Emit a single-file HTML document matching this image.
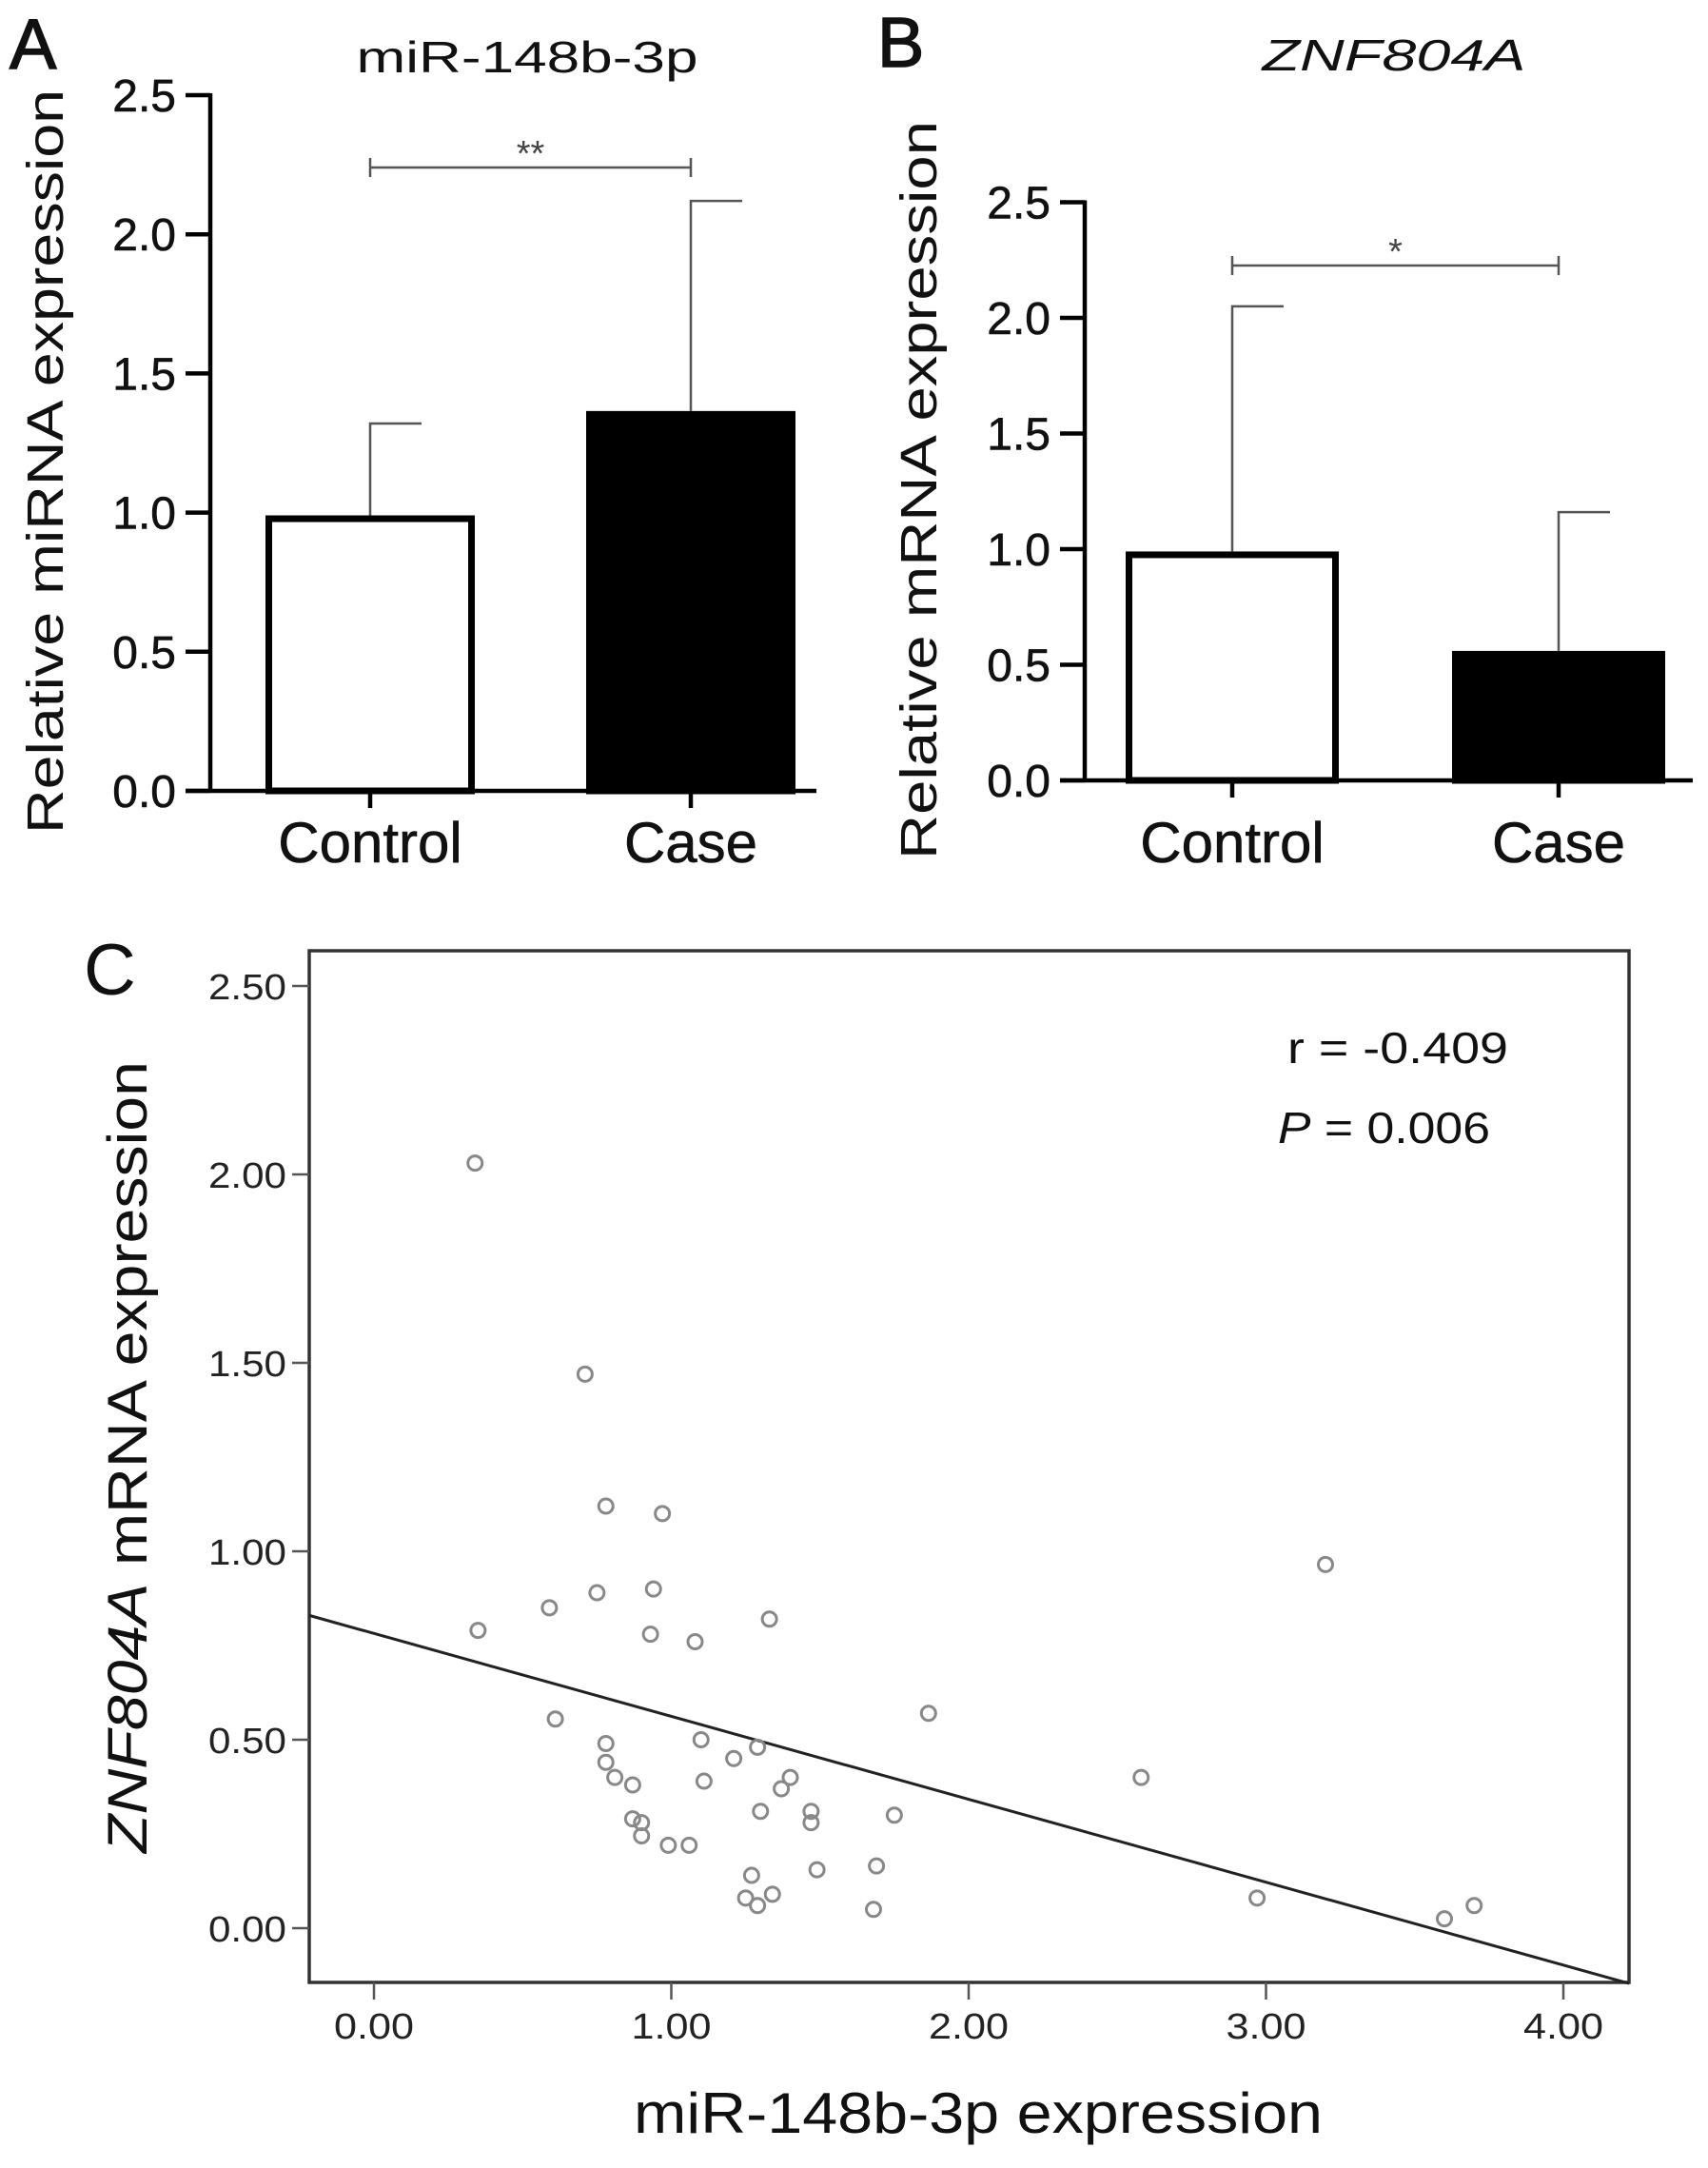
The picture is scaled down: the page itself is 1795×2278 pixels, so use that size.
<!DOCTYPE html>
<html><head><meta charset="utf-8"><style>
html,body{margin:0;padding:0;background:#fff;}
svg{display:block;font-family:"Liberation Sans",Arial,sans-serif;}
</style></head><body>
<svg id="fig" width="1795" height="2278" viewBox="0 0 1795 2278" xmlns="http://www.w3.org/2000/svg">
<rect width="1795" height="2278" fill="#fff"/>
<g id="panelA"></g>
<g id="panelB"></g>
<g id="panelC"></g>
</svg>
<script>
// Panel A data
const aCategories = ["Control", "Case"];
const aMeans = [0.99, 1.365];
const aErrTop = [1.32, 2.12];
const aTicks = ["0.0", "0.5", "1.0", "1.5", "2.0", "2.5"];
const aSig = "**";
// Panel B data
const bCategories = ["Control", "Case"];
const bMeans = [0.99, 0.56];
const bErrTop = [2.05, 1.16];
const bTicks = ["0.0", "0.5", "1.0", "1.5", "2.0", "2.5"];
const bSig = "*";
// Panel C data
const cX = [0.34,0.71,0.78,0.97,0.59,0.75,0.94,0.35,0.93,1.08,1.33,3.20,0.61,1.865,0.78,1.10,1.29,1.21,0.78,0.81,0.87,1.11,1.40,1.37,2.58,1.47,1.30,1.75,1.47,0.87,0.90,0.90,0.99,1.06,1.27,1.49,1.69,1.25,1.34,1.29,1.68,2.97,3.60,3.70];
const cY = [2.03,1.47,1.12,1.10,0.85,0.89,0.90,0.79,0.78,0.76,0.82,0.965,0.555,0.57,0.49,0.50,0.48,0.45,0.44,0.40,0.38,0.39,0.40,0.37,0.40,0.31,0.31,0.30,0.28,0.29,0.28,0.245,0.22,0.22,0.14,0.155,0.165,0.08,0.09,0.06,0.05,0.08,0.025,0.06];
const cXTicks = ["0.00","1.00","2.00","3.00","4.00"];
const cYTicks = ["0.00","0.50","1.00","1.50","2.00","2.50"];
const cFit = [0.782, -0.22]; // intercept, slope
const cStats = ["r = -0.409", "0.006"];

const NS = "http://www.w3.org/2000/svg";
function mk(parent, tag, attrs, text){
  const e = document.createElementNS(NS, tag);
  for (const k in attrs) e.setAttribute(k, attrs[k]);
  if (text !== undefined) e.textContent = text;
  parent.appendChild(e);
  return e;
}

function barPanel(g, cfg){
  const y = v => cfg.y0 - v * cfg.unit;
  const t = mk(g, "text", {x:0, y:0, "font-size":cfg.atFs, "text-anchor":"middle", fill:"#111", transform:`translate(${cfg.atX},${cfg.atY}) rotate(-90)`, textLength:cfg.atLen, lengthAdjust:"spacingAndGlyphs"}, cfg.axisTitle);
  
  
  const tt = mk(g, "text", {x:cfg.titleX, y:cfg.titleY, "font-size":46, "text-anchor":"middle", fill:"#111", "font-style":cfg.italic?"italic":"normal", textLength:cfg.titleLen, lengthAdjust:"spacingAndGlyphs"}, cfg.title);
  
  
  const pl = mk(g, "text", {x:cfg.letterX, y:cfg.letterY, "font-size":74, fill:"#111", stroke:"#111", "stroke-width":1.5}, cfg.letter);
  
  
  cfg.ticks.forEach((lab, i) => {
    const v = parseFloat(lab);
    const tk = mk(g, "line", {x1:cfg.axX-26, x2:cfg.axX, y1:y(v), y2:y(v), stroke:"#000", "stroke-width":4.5});
    
    
    const tl = mk(g, "text", {x:cfg.axX-36, y:y(v)+17, "font-size":48, "text-anchor":"end", fill:"#111", stroke:"#111", "stroke-width":0.6}, lab);
    
    
  });
  cfg.cats.forEach((c, i) => {
    const cx = cfg.centers[i];
    const top = y(cfg.means[i]);
    const bar = mk(g, "rect", {x:cx-cfg.halfW+3.5, y:top+3.5, width:cfg.halfW*2-7, height:cfg.y0-top-3.5, fill:i===0?"#fff":"#000", stroke:"#000", "stroke-width":7});
    
    
    const et = y(cfg.err[i]);
    const el = mk(g, "path", {d:`M${cx},${top} V${et} H${cx+cfg.capW}`, stroke:"#555", "stroke-width":2.5, fill:"none"});
    
    
    const xt = mk(g, "line", {x1:cx, x2:cx, y1:cfg.y0, y2:cfg.y0+18, stroke:"#000", "stroke-width":4.5});
    
    
    const xl = mk(g, "text", {x:cx, y:cfg.catY, "font-size":60, "text-anchor":"middle", fill:"#111", stroke:"#111", "stroke-width":0.6}, c);
    
    
  });
  const ya = mk(g, "line", {x1:cfg.axX, x2:cfg.axX, y1:y(2.5)-2, y2:cfg.y0+2, stroke:"#000", "stroke-width":4.5});
  
  
  const xa = mk(g, "line", {x1:cfg.axX-26, x2:cfg.xEnd, y1:cfg.y0, y2:cfg.y0, stroke:"#000", "stroke-width":4.5});
  
  
  const by = cfg.brY;
  const br = mk(g, "path", {d:`M${cfg.centers[0]},${by-10} V${by+10} M${cfg.centers[0]},${by} H${cfg.centers[1]} M${cfg.centers[1]},${by-10} V${by+10}`, stroke:"#555", "stroke-width":2.5, fill:"none"});
  
  
  const st = mk(g, "text", {x:(cfg.centers[0]+cfg.centers[1])/2, y:by-2, "font-size":38, "text-anchor":"middle", fill:"#444"}, cfg.sig);
  
  
}

barPanel(document.getElementById("panelA"), {
  y0:831, unit:292.4, axX:221, xEnd:858, centers:[389,726], halfW:110, capW:54,
  cats:aCategories, means:aMeans, err:aErrTop, ticks:aTicks, sig:aSig, brY:176,
  axisTitle:"Relative miRNA expression", atX:66, atY:485, atFs:54, atLen:782,
  title:"miR-148b-3p", titleX:554, titleY:76, titleLen:359, italic:false,
  letter:"A", letterX:10, letterY:72, catY:906
});
barPanel(document.getElementById("panelB"), {
  y0:820, unit:243, axX:1140, xEnd:1779, centers:[1295,1638], halfW:112, capW:54,
  cats:bCategories, means:bMeans, err:bErrTop, ticks:bTicks, sig:bSig, brY:279,
  axisTitle:"Relative mRNA expression", atX:984, atY:515, atFs:54, atLen:776,
  title:"ZNF804A", titleX:1465, titleY:74, titleLen:277, italic:true,
  letter:"B", letterX:922, letterY:70, catY:906
});

(function(){
  const g = document.getElementById("panelC");
  const X0 = 393, XU = 312.5, Y0 = 2026, YU = 396;
  const L = 325, R = 1712, T = 999, B = 2083;
  const sx = v => X0 + v * XU;
  const sy = v => Y0 - v * YU;
  const invX = px => (px - X0) / XU;
  const box = mk(g, "rect", {x:L, y:T, width:R-L, height:B-T, fill:"none", stroke:"#333", "stroke-width":3.5});
  
  
  cYTicks.forEach(lab => {
    const v = parseFloat(lab);
    const tk = mk(g, "line", {x1:L-18, x2:L, y1:sy(v), y2:sy(v), stroke:"#555", "stroke-width":2.5});
    
    
    const tl = mk(g, "text", {x:L-24, y:sy(v)+14, "font-size":38, "text-anchor":"end", fill:"#222", textLength:82, lengthAdjust:"spacingAndGlyphs"}, lab);
    
    
  });
  cXTicks.forEach(lab => {
    const v = parseFloat(lab);
    const tk = mk(g, "line", {x1:sx(v), x2:sx(v), y1:B, y2:B+18, stroke:"#555", "stroke-width":2.5});
    
    
    const tl = mk(g, "text", {x:sx(v), y:2142, "font-size":38, "text-anchor":"middle", fill:"#222", textLength:84, lengthAdjust:"spacingAndGlyphs"}, lab);
    
    
  });
  const xl = invX(L), xr = invX(R);
  const ln = mk(g, "line", {x1:sx(xl), y1:sy(cFit[0]+cFit[1]*xl), x2:sx(xr), y2:sy(cFit[0]+cFit[1]*xr), stroke:"#222", "stroke-width":3});
  
  
  cX.forEach((v, i) => {
    const c = mk(g, "circle", {cx:sx(v), cy:sy(cY[i]), r:7.5, fill:"none", stroke:"#888", "stroke-width":3});
    
    
  });
  const r = mk(g, "text", {x:1353, y:1117, "font-size":46, fill:"#111", textLength:232, lengthAdjust:"spacingAndGlyphs"}, cStats[0]);
  
  
  const p = mk(g, "text", {x:1343, y:1201, "font-size":46, fill:"#111", textLength:223, lengthAdjust:"spacingAndGlyphs"});
  
  
  mk(p, "tspan", {"font-style":"italic"}, "P");
  mk(p, "tspan", {}, " = " + cStats[1]);
  const xt = mk(g, "text", {x:1028, y:2241, "font-size":60, "text-anchor":"middle", fill:"#111", textLength:724, lengthAdjust:"spacingAndGlyphs"}, "miR-148b-3p expression");
  
  
  const yt = mk(g, "text", {x:0, y:0, "font-size":58, "text-anchor":"middle", fill:"#111", transform:"translate(154,1531) rotate(-90)", textLength:832, lengthAdjust:"spacingAndGlyphs"});
  
  
  mk(yt, "tspan", {"font-style":"italic"}, "ZNF804A");
  mk(yt, "tspan", {}, " mRNA expression");
  const cl = mk(g, "text", {x:88, y:1045, "font-size":76, fill:"#111"}, "C");
  
  
})();
</script>
</body></html>
